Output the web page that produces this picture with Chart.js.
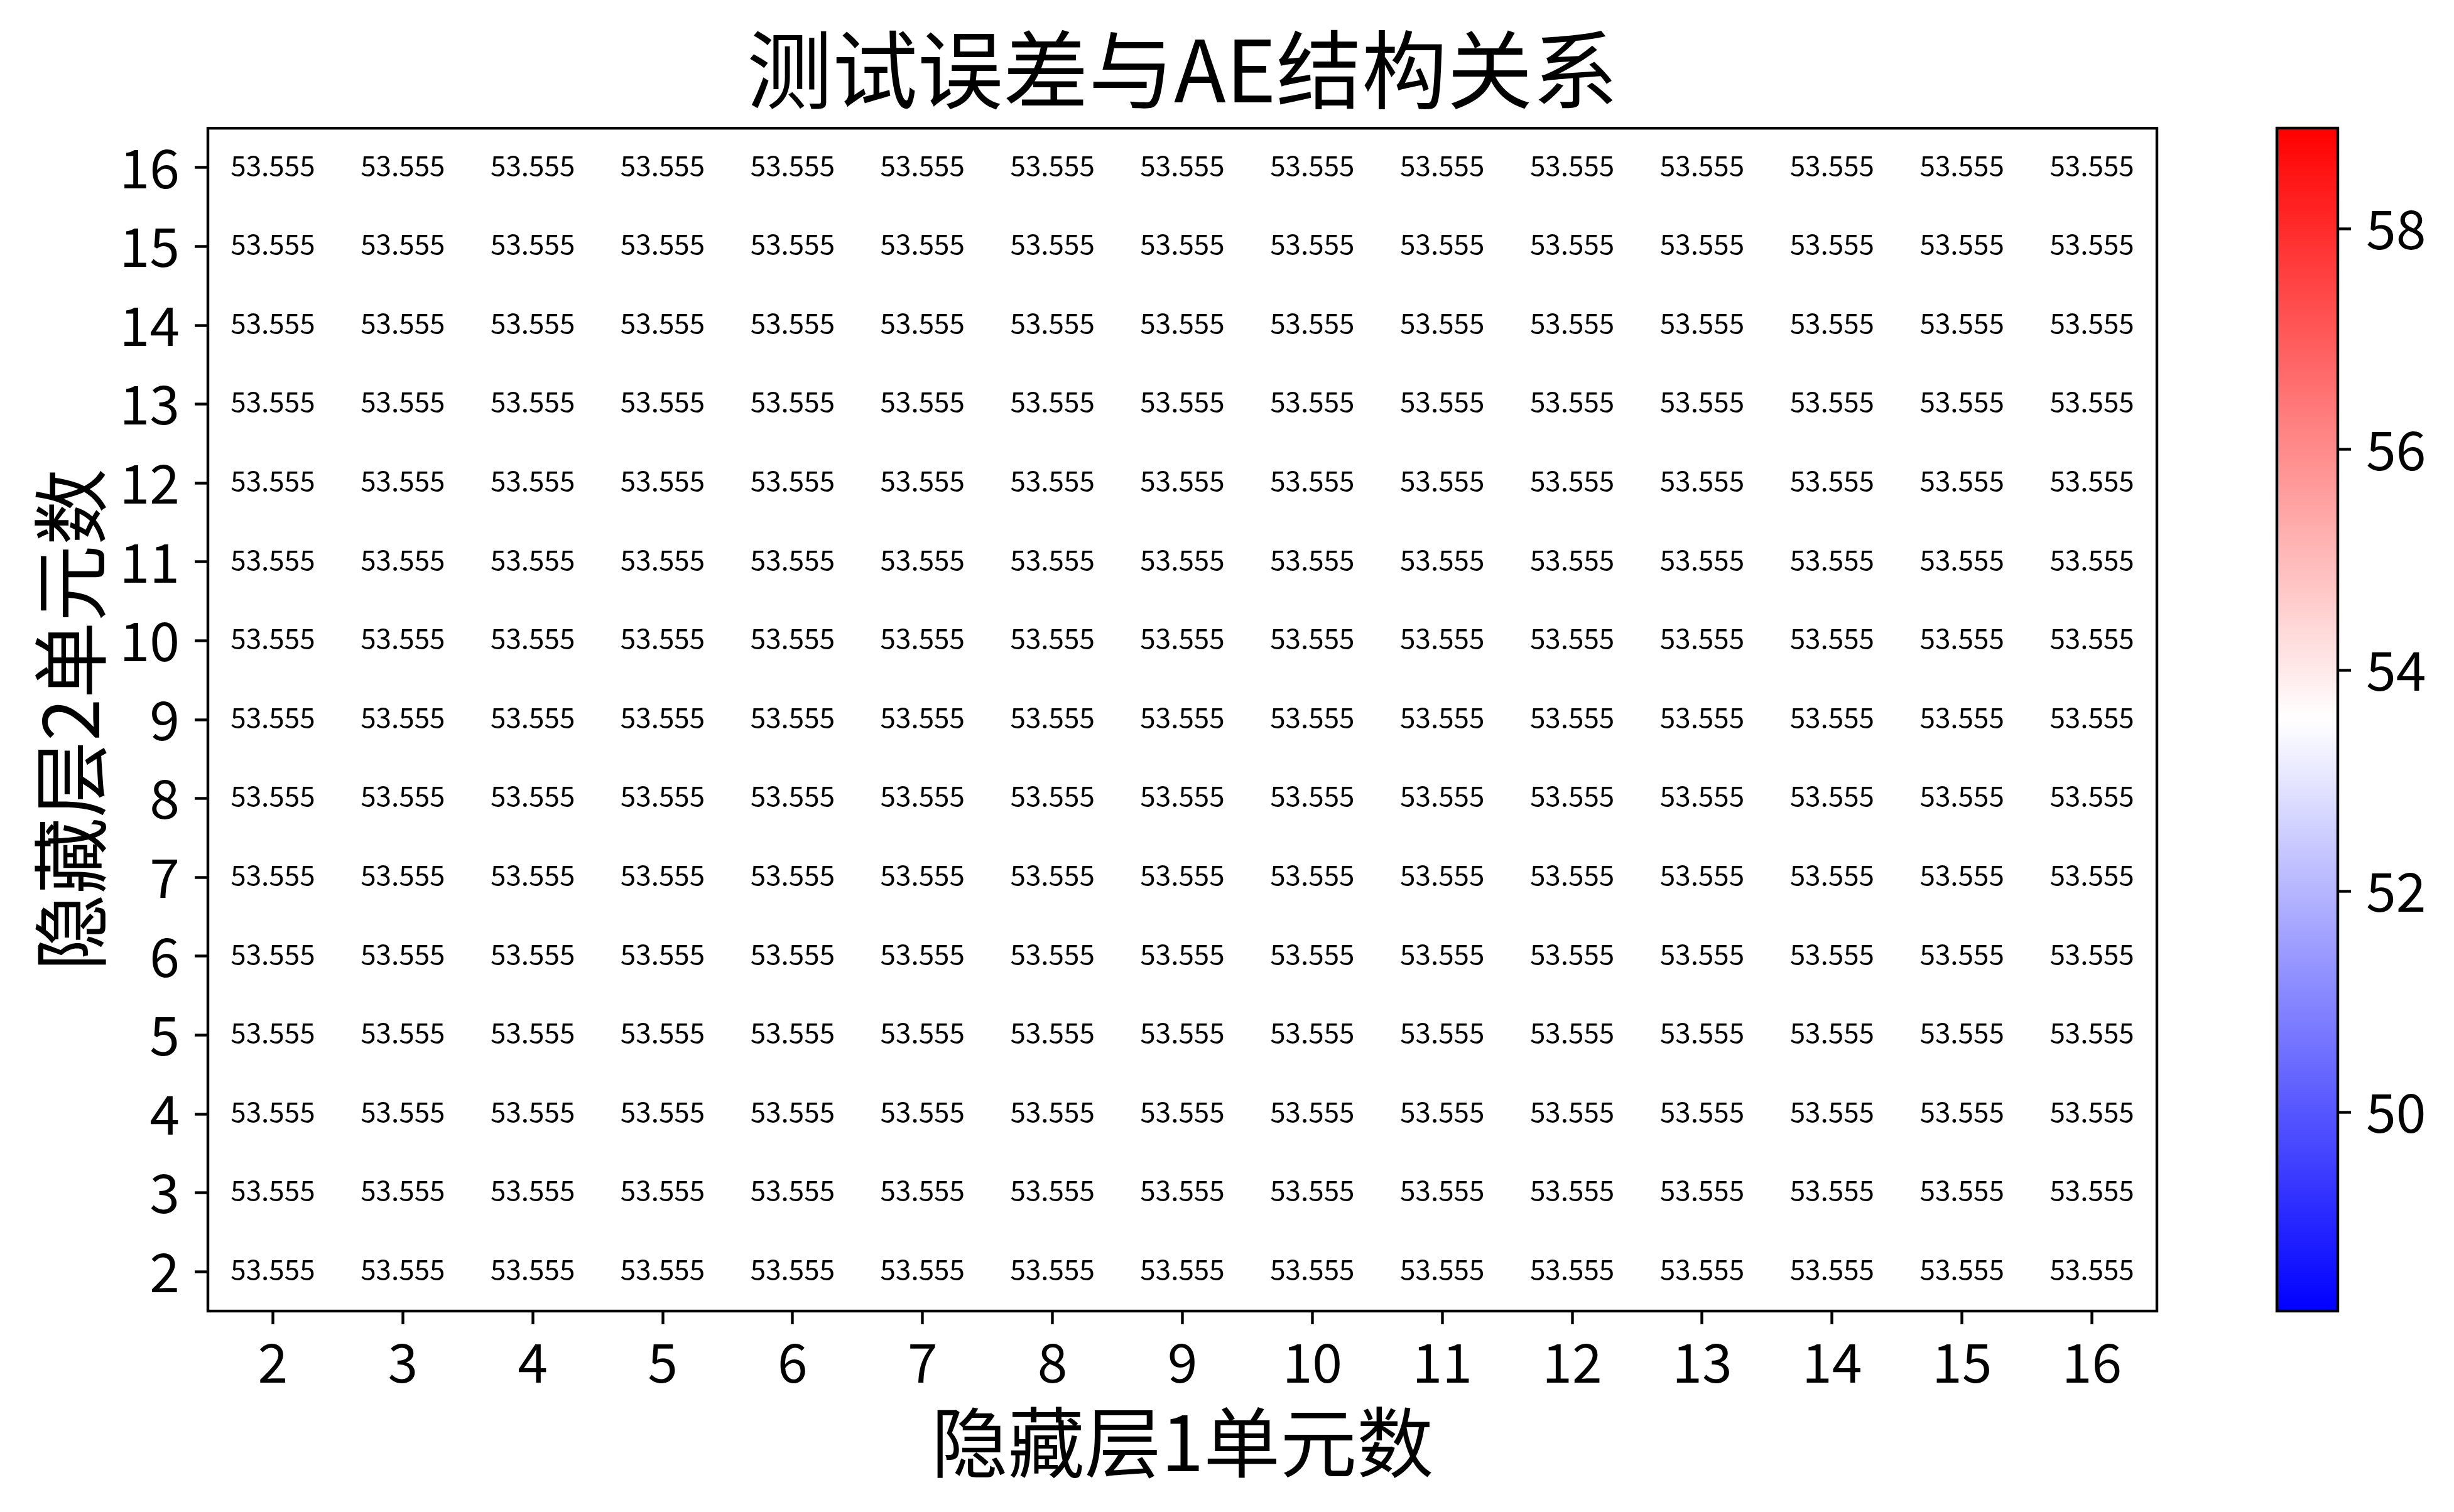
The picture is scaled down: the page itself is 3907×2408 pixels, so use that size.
<!DOCTYPE html>
<html>
<head>
<meta charset="utf-8">
<script src="https://cdn.jsdelivr.net/npm/chart.js@4.4.1/dist/chart.umd.min.js"></script>
<style>
  html, body { margin: 0; padding: 0; background: #ffffff; }
  #wrap { position: relative; width: 3907px; height: 2408px; background: #ffffff; }
  canvas { position: absolute; top: 0; }
  #main { left: 0; }
  #cbar { left: 3500px; }
</style>
</head>
<body>
<div id="wrap">
  <canvas id="main" width="3907" height="2408"></canvas>
  <canvas id="cbar" width="407" height="2408"></canvas>
</div>
<script>
// ---------------- data ----------------
const chartTitle = '测试误差与AE结构关系';
const xAxisTitle = '隐藏层1单元数';
const yAxisTitle = '隐藏层2单元数';
const hidden1Units = [2, 3, 4, 5, 6, 7, 8, 9, 10, 11, 12, 13, 14, 15, 16];
const hidden2Units = [2, 3, 4, 5, 6, 7, 8, 9, 10, 11, 12, 13, 14, 15, 16];
// test error, one row per hidden-layer-2 size (row 0 = 2 units), columns = hidden-layer-1 size
const testErrorRows = [
  [53.555, 53.555, 53.555, 53.555, 53.555, 53.555, 53.555, 53.555, 53.555, 53.555, 53.555, 53.555, 53.555, 53.555, 53.555],
  [53.555, 53.555, 53.555, 53.555, 53.555, 53.555, 53.555, 53.555, 53.555, 53.555, 53.555, 53.555, 53.555, 53.555, 53.555],
  [53.555, 53.555, 53.555, 53.555, 53.555, 53.555, 53.555, 53.555, 53.555, 53.555, 53.555, 53.555, 53.555, 53.555, 53.555],
  [53.555, 53.555, 53.555, 53.555, 53.555, 53.555, 53.555, 53.555, 53.555, 53.555, 53.555, 53.555, 53.555, 53.555, 53.555],
  [53.555, 53.555, 53.555, 53.555, 53.555, 53.555, 53.555, 53.555, 53.555, 53.555, 53.555, 53.555, 53.555, 53.555, 53.555],
  [53.555, 53.555, 53.555, 53.555, 53.555, 53.555, 53.555, 53.555, 53.555, 53.555, 53.555, 53.555, 53.555, 53.555, 53.555],
  [53.555, 53.555, 53.555, 53.555, 53.555, 53.555, 53.555, 53.555, 53.555, 53.555, 53.555, 53.555, 53.555, 53.555, 53.555],
  [53.555, 53.555, 53.555, 53.555, 53.555, 53.555, 53.555, 53.555, 53.555, 53.555, 53.555, 53.555, 53.555, 53.555, 53.555],
  [53.555, 53.555, 53.555, 53.555, 53.555, 53.555, 53.555, 53.555, 53.555, 53.555, 53.555, 53.555, 53.555, 53.555, 53.555],
  [53.555, 53.555, 53.555, 53.555, 53.555, 53.555, 53.555, 53.555, 53.555, 53.555, 53.555, 53.555, 53.555, 53.555, 53.555],
  [53.555, 53.555, 53.555, 53.555, 53.555, 53.555, 53.555, 53.555, 53.555, 53.555, 53.555, 53.555, 53.555, 53.555, 53.555],
  [53.555, 53.555, 53.555, 53.555, 53.555, 53.555, 53.555, 53.555, 53.555, 53.555, 53.555, 53.555, 53.555, 53.555, 53.555],
  [53.555, 53.555, 53.555, 53.555, 53.555, 53.555, 53.555, 53.555, 53.555, 53.555, 53.555, 53.555, 53.555, 53.555, 53.555],
  [53.555, 53.555, 53.555, 53.555, 53.555, 53.555, 53.555, 53.555, 53.555, 53.555, 53.555, 53.555, 53.555, 53.555, 53.555],
  [53.555, 53.555, 53.555, 53.555, 53.555, 53.555, 53.555, 53.555, 53.555, 53.555, 53.555, 53.555, 53.555, 53.555, 53.555]
];
const colorbarTicks = [50, 52, 54, 56, 58];
const colorMin = 48.1995;
const colorMax = 58.9105;

// ---------------- styling ----------------
const FONT = "'Noto Sans CJK SC', 'Noto Sans', sans-serif";
const LINE_W = 4.4;
const TICK_LEN = 21;
Chart.defaults.font.family = FONT;
Chart.defaults.color = '#000000';

// bwr colormap
function bwr(t) {
  t = Math.max(0, Math.min(1, t));
  let r, g, b;
  if (t < 0.5) { r = 2 * t; g = 2 * t; b = 1; }
  else { r = 1; g = 2 - 2 * t; b = 2 - 2 * t; }
  return 'rgb(' + Math.round(r * 255) + ',' + Math.round(g * 255) + ',' + Math.round(b * 255) + ')';
}
function colorFor(v) { return bwr((v - colorMin) / (colorMax - colorMin)); }

const gridStyle = {
  display: true,
  drawOnChartArea: false,
  drawTicks: true,
  tickLength: TICK_LEN,
  tickWidth: LINE_W,
  tickColor: '#000000',
  offset: false
};

// ---------------- main heatmap ----------------
const heatDatasets = hidden2Units.map((h2, r) => ({
  label: String(h2),
  data: hidden1Units.map(() => [h2 - 0.5, h2 + 0.5]),
  backgroundColor: testErrorRows[r].map(colorFor),
  borderWidth: 0,
  barPercentage: 1,
  categoryPercentage: 1,
  grouped: false
}));

const framePlugin = {
  id: 'frameAndLabels',
  afterDatasetsDraw(chart) {
    const { ctx, chartArea: a, scales } = chart;
    ctx.save();
    // annotations
    ctx.fillStyle = '#000000';
    ctx.font = '44px ' + FONT;
    ctx.textAlign = 'center';
    ctx.textBaseline = 'middle';
    hidden2Units.forEach((h2, r) => {
      hidden1Units.forEach((h1, c) => {
        const x = scales.x.getPixelForValue(c);
        const y = scales.y.getPixelForValue(h2) - 4;
        ctx.fillText(testErrorRows[r][c].toFixed(3), x, y);
      });
    });
    // frame
    ctx.strokeStyle = '#000000';
    ctx.lineWidth = LINE_W;
    ctx.strokeRect(a.left, a.top, a.right - a.left, a.bottom - a.top);
    ctx.restore();
  }
};

new Chart(document.getElementById('main'), {
  type: 'bar',
  data: { labels: hidden1Units.map(String), datasets: heatDatasets },
  options: {
    responsive: false,
    animation: false,
    devicePixelRatio: 1,
    layout: { padding: { left: 0, right: 473, top: 0, bottom: 0 } },
    plugins: {
      legend: { display: false },
      tooltip: { enabled: false },
      title: {
        display: true,
        text: chartTitle,
        fullSize: false,
        color: '#000000',
        font: { size: 136, family: FONT, weight: 'normal', lineHeight: 1.2 },
        padding: { top: 30, bottom: 11 }
      }
    },
    scales: {
      x: {
        type: 'category',
        offset: true,
        grid: gridStyle,
        border: { display: false },
        ticks: { font: { size: 86, family: FONT }, color: '#000000', padding: 9, maxRotation: 0, autoSkip: false },
        title: {
          display: true, text: xAxisTitle, color: '#000000',
          font: { size: 122, family: FONT, lineHeight: 1.2 },
          padding: { top: 0, bottom: 38 }
        },
        afterFit(scale) { scale.height = 320; }
      },
      y: {
        type: 'linear',
        min: 1.5,
        max: 16.5,
        grid: gridStyle,
        border: { display: false },
        afterBuildTicks(scale) { scale.ticks = hidden2Units.map(v => ({ value: v })); },
        ticks: { font: { size: 86, family: FONT }, color: '#000000', padding: 24 },
        title: {
          display: true, text: yAxisTitle, color: '#000000',
          font: { size: 122, family: FONT, lineHeight: 1.2 },
          padding: { top: 38, bottom: 0 }
        },
        afterFit(scale) { scale.width = 331; }
      }
    }
  },
  plugins: [framePlugin]
});

// ---------------- colorbar ----------------
const cbarFrame = {
  id: 'cbarFrame',
  afterDatasetsDraw(chart) {
    const { ctx, chartArea: a } = chart;
    ctx.save();
    ctx.strokeStyle = '#000000';
    ctx.lineWidth = LINE_W;
    ctx.strokeRect(a.left, a.top, a.right - a.left, a.bottom - a.top);
    ctx.restore();
  }
};

new Chart(document.getElementById('cbar'), {
  type: 'bar',
  data: {
    labels: [''],
    datasets: [{
      data: [[colorMin, colorMax]],
      borderWidth: 0,
      barPercentage: 1,
      categoryPercentage: 1,
      backgroundColor(ctx) {
        const chart = ctx.chart;
        if (!chart.chartArea) return '#ffffff';
        const ys = chart.scales.y;
        const g = chart.ctx.createLinearGradient(0, ys.getPixelForValue(colorMin), 0, ys.getPixelForValue(colorMax));
        for (let i = 0; i <= 40; i++) {
          const t = i / 40;
          g.addColorStop(t, bwr(t));
        }
        return g;
      }
    }]
  },
  options: {
    responsive: false,
    animation: false,
    devicePixelRatio: 1,
    layout: { padding: { left: 125, right: 0, top: 204, bottom: 320 } },
    plugins: { legend: { display: false }, tooltip: { enabled: false }, title: { display: false } },
    scales: {
      x: { display: false, offset: true },
      y: {
        type: 'linear',
        position: 'right',
        min: colorMin,
        max: colorMax,
        grid: gridStyle,
        border: { display: false },
        afterBuildTicks(scale) { scale.ticks = colorbarTicks.map(v => ({ value: v })); },
        ticks: { font: { size: 86, family: FONT }, color: '#000000', padding: 24 },
        afterFit(scale) { scale.width = 185; }
      }
    }
  },
  plugins: [cbarFrame]
});
</script>
</body>
</html>
